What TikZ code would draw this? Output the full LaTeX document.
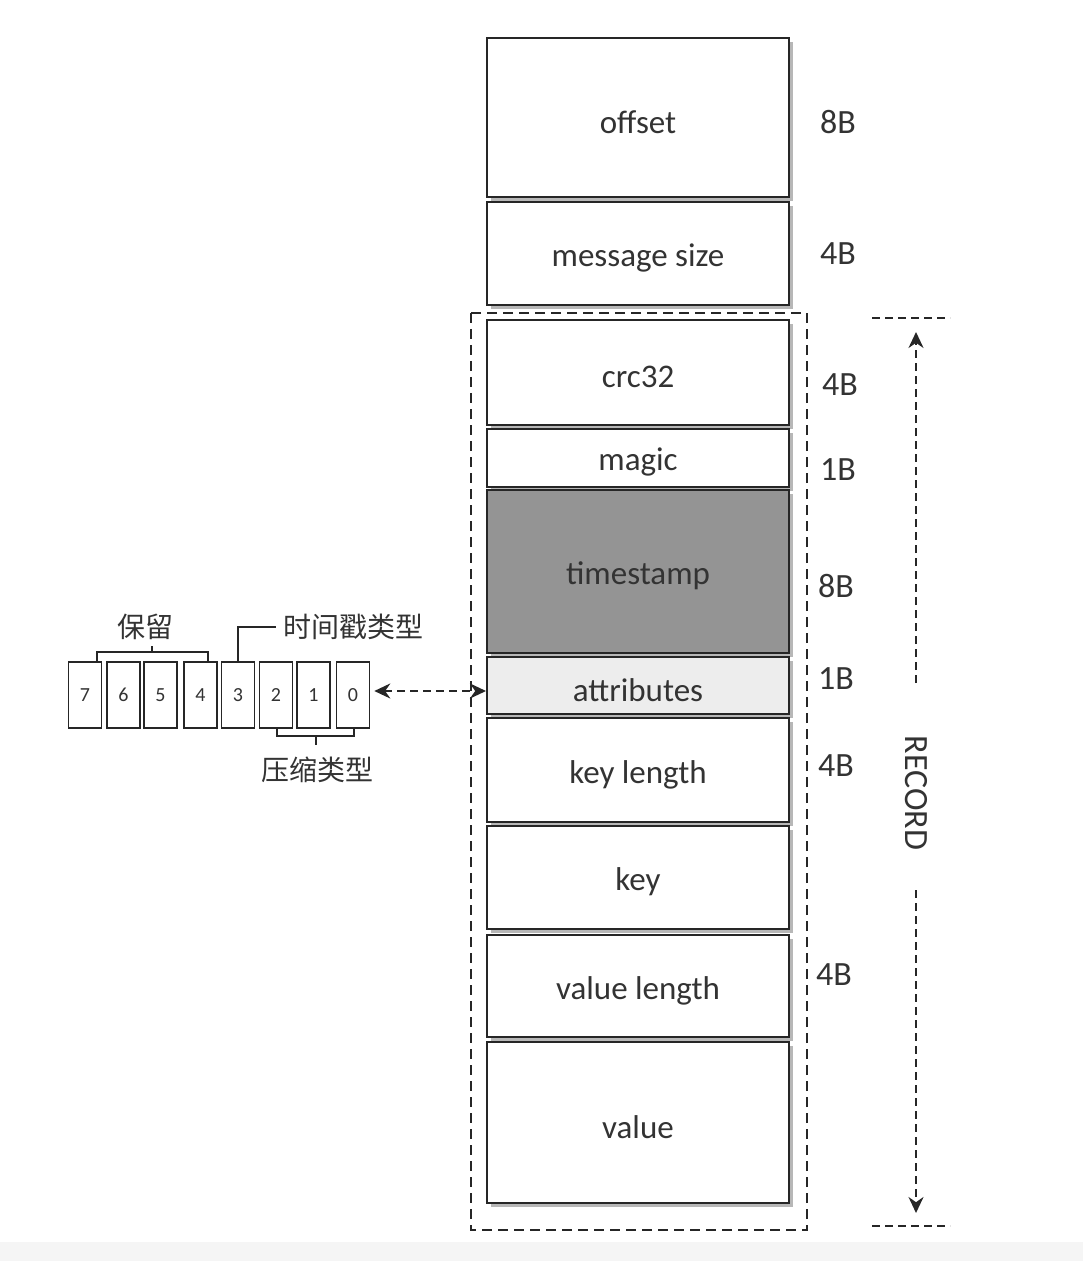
\documentclass[tikz,border=0pt]{standalone}
\usepackage{fontspec}
\setmainfont{Carlito}
\newfontfamily\cjk{Noto Sans CJK SC}
\usetikzlibrary{arrows.meta,shadows}
\newcommand{\fl}[1]{\raisebox{-2.2pt}[\height][\depth]{#1}}
\begin{document}
\begin{tikzpicture}[x=0.5pt,y=-0.5pt,
 >={Stealth[length=8pt,width=7.5pt]},
 field/.style={draw=black!85, line width=1pt, minimum width=151pt, fill=white, font=\fontsize{16.5}{18}\selectfont, text=black!80, inner sep=0pt, drop shadow={shadow xshift=1.8pt,shadow yshift=-1.8pt,fill=black!40,opacity=0.7}},
 size/.style={font=\fontsize{17}{18}\selectfont, text=black!80},
 bit/.style={draw=black!85,line width=0.8pt,minimum width=16.5pt,minimum height=33pt,inner sep=0pt,font=\fontsize{10}{12}\selectfont,text=black!80},
 cn/.style={font=\cjk\fontsize{14}{16}\selectfont,text=black!80},
 dsh/.style={dash pattern=on 4pt off 2.5pt, line width=1.1pt, draw=black!85},
 brk/.style={line width=0.7pt, draw=black!85}
]
\useasboundingbox (0,0) rectangle (1083,1261);
\fill[black!4] (0,1242) rectangle (1083,1261);

% dashed record box
\draw[dash pattern=on 5pt off 3pt, line width=0.7pt, draw=black!85] (471,313) rectangle (807,1230);

% fields
\node[field, minimum height=79.5pt] (offset) at (638,117.5) {\fl{offset}};
\node[field, minimum height=51.5pt] (msize) at (638,253.5) {\fl{message size}};
\node[field, minimum height=52.5pt] (crc) at (638,372.5) {\fl{crc32}};
\node[field, minimum height=29pt] (magic) at (638,458) {\fl{magic}};
\node[field, minimum height=81.5pt, fill=black!42] (ts) at (638,571.5) {\fl{timestamp}};
\node[field, minimum height=28.5pt, fill=black!7] (attr) at (638,685.5) {\fl{attributes}};
\node[field, minimum height=52pt] (klen) at (638,770) {\fl{key length}};
\node[field, minimum height=51.5pt] (key) at (638,877.5) {\fl{key}};
\node[field, minimum height=51pt] (vlen) at (638,986) {\fl{value length}};
\node[field, minimum height=80.5pt] (value) at (638,1122.5) {\fl{value}};

% sizes
\node[size] (s1) at (838,122) {8B};
\node[size] (s2) at (838,254) {4B};
\node[size] (s3) at (840,385) {4B};
\node[size] (s4) at (838,470) {1B};
\node[size] (s5) at (836,586) {8B};
\node[size] (s6) at (836,679) {1B};
\node[size] (s7) at (836,766) {4B};
\node[size] (s8) at (834,975) {4B};

% RECORD
\draw[dsh] (872,318) -- (950,318);
\draw[dsh] (872,1226) -- (950,1226);
\node[size, rotate=-90] (rec) at (916,793) {RECORD};
\coordinate (rt) at (916,332);
\coordinate (rb) at (916,1213);
\coordinate (ra) at (916,683);
\coordinate (rc) at (916,890);
\draw[dsh,->] (ra) -- (rt);
\draw[dsh,->] (rc) -- (rb);

% bits
\node[bit] (b7) at (85,695) {7};
\node[bit] (b6) at (123.5,695) {6};
\node[bit] (b5) at (160.5,695) {5};
\node[bit] (b4) at (200.5,695) {4};
\node[bit] (b3) at (238,695) {3};
\node[bit] (b2) at (276,695) {2};
\node[bit] (b1) at (313.5,695) {1};
\node[bit] (b0) at (353,695) {0};

% brackets and labels
\draw[brk] (97,662) -- (97,652) -- (208,652) -- (208,662);
\draw[brk] (152,652) -- (152,646);
\node[cn] (reserved) at (145,627) {保留};
\node[cn, anchor=west] (tstype) at (276,627) {时间戳类型};
\draw[brk] (b3.north) |- (tstype.west);
\draw[brk] (277,728) -- (277,736) -- (354,736) -- (354,728);
\draw[brk] (316,736) -- (316,745);
\node[cn] (ctype) at (317,770) {压缩类型};

% arrow
\draw[dsh, <->, shorten <=2pt] ([yshift=2pt]b0.east) -- ([yshift=2pt]b0.east -| attr.west);
\end{tikzpicture}
\end{document}
